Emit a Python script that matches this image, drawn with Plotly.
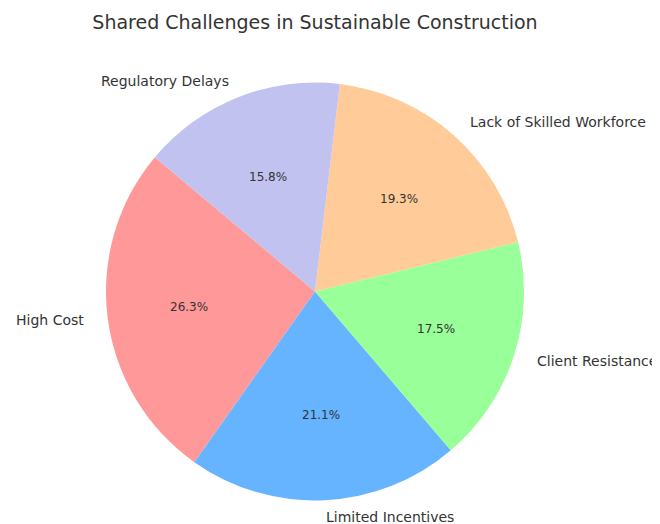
import math
import plotly.graph_objects as go

# ---- data ----
labels = ["High Cost", "Limited Incentives", "Client Resistance",
          "Lack of Skilled Workforce", "Regulatory Delays"]
values = [15, 12, 10, 11, 9]
colors = ["#ff9999", "#66b3ff", "#99ff99", "#ffcc99", "#c2c2f0"]
title = "Shared Challenges in Sustainable Construction"

W, H = 660, 524
OFF = 8.0                    # page body margin offset
CX, CY = 315.0 - OFF, 291.5 - OFF   # pie centre in figure px
R = 209.0                    # pie radius in px
RX, RY = 212.0, 205.5        # text placement radii (px)
START = 140.0                # start angle, degrees, counter-clockwise from 3 o'clock
TXT = "#333333"

total = sum(values)
# plotly: rotation is clockwise from 12 o'clock; for counterclockwise direction
# the first slice ends at the rotation angle
rotation = 90 - START - 360.0 * values[0] / total

fig = go.Figure(go.Pie(
    labels=labels, values=values, sort=False, direction="counterclockwise",
    rotation=rotation, marker=dict(colors=colors, line=dict(width=0)),
    textinfo="none", hoverinfo="label+percent", showlegend=False,
    domain=dict(x=[(CX - R) / W, (CX + R) / W], y=[1 - (CY + R) / H, 1 - (CY - R) / H]),
))

ann = []
a0 = START
for lab, v in zip(labels, values):
    span = 360.0 * v / total
    mid = math.radians(a0 + span / 2)
    a0 += span
    c, s = math.cos(mid), math.sin(mid)
    # percentage inside
    px, py = CX + 0.6 * RX * c, CY - 0.6 * RY * s
    ann.append(dict(x=px / W, y=1 - py / H, xref="paper", yref="paper",
                    text=f"{100 * v / total:.1f}%", showarrow=False,
                    xanchor="center", yanchor="middle", borderpad=0, borderwidth=0,
                    font=dict(family="DejaVu Sans", size=12, color=TXT)))
    # label outside
    lx, ly = CX + 1.1 * RX * c, CY - 1.1 * RY * s
    ann.append(dict(x=lx / W, y=1 - ly / H, xref="paper", yref="paper",
                    text=lab, showarrow=False, borderpad=0, borderwidth=0,
                    xanchor="left" if c > 0 else "right", yanchor="middle",
                    font=dict(family="DejaVu Sans", size=14, color=TXT)))

fig.update_layout(
    width=W, height=H, margin=dict(l=0, r=0, t=0, b=0),
    paper_bgcolor="white", plot_bgcolor="white",
    title=dict(text=title, x=CX / W, xanchor="center", y=1 - (22 - OFF) / H, yanchor="middle",
               font=dict(family="DejaVu Sans", size=19, color=TXT)),
    annotations=ann,
)

fig.write_html("out.html")
